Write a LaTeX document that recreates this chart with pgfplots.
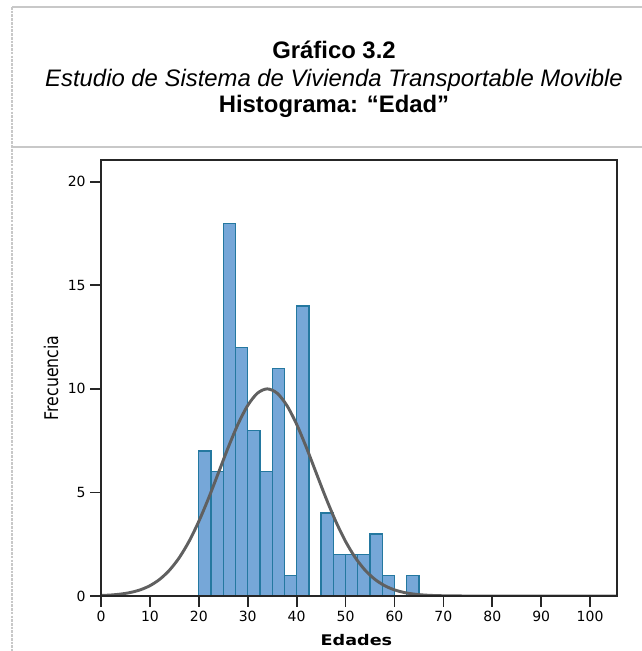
\documentclass[border=0pt]{standalone}
\usepackage{fontspec}
\setmainfont{Liberation Sans}
\newfontfamily\dejavu{DejaVu Sans}
\usepackage{pgfplots}
\pgfplotsset{compat=1.18}

\definecolor{barfill}{RGB}{118,167,216}
\definecolor{baredge}{RGB}{36,120,160}
\definecolor{curvegray}{RGB}{96,96,96}
\definecolor{framegray}{RGB}{200,200,200}

\begin{document}
\begin{tikzpicture}
% page frame and title, in pixel units of the reference
\begin{scope}[x=0.75pt, y=-0.75pt]
  \useasboundingbox (0,0) rectangle (642,651);
  \draw[framegray, line width=1.5pt] (12,7) -- (642,7);
  \draw[framegray, line width=1.5pt] (12,147) -- (642,147);
  \draw[framegray, line width=2.2pt, dash pattern=on 2pt off 0.8pt] (12,7) -- (12,651);
  \node[anchor=base, inner sep=0pt, font=\fontsize{17.9}{20}\selectfont\bfseries] at (334,58.5) {Gráfico 3.2};
  \node[anchor=base, inner sep=0pt, font=\fontsize{17.9}{20}\selectfont\itshape] at (334,86) {Estudio de Sistema de Vivienda Transportable Movible};
  \node[anchor=base, inner sep=0pt, font=\fontsize{17.9}{20}\selectfont\bfseries] at (334,112.6) {Histograma: “Edad”};
\end{scope}

\begin{axis}[
    at={(75.75pt,-447pt)}, anchor=south west,
    width=387pt, height=327pt, scale only axis,
    xmin=0, xmax=105.5, ymin=0, ymax=21.05,
    axis on top,
    axis line style={black!85, line width=1.4pt},
    xtick={0,10,...,100}, ytick={0,5,10,15,20},
    minor tick num=0,
    tick align=outside, tick pos=left,
    major tick length=8pt,
    tick style={black!85, line width=1.3pt},
    tick label style={font=\dejavu\fontsize{10.5}{12}\selectfont},
    /pgf/number format/assume math mode=true,
    xlabel={Edades}, ylabel={Frecuencia},
    every axis x label/.style={at={(axis description cs:0.495,-0.114)}, anchor=base,
        font=\dejavu\bfseries\fontsize{11}{13}\selectfont, xscale=1.2},
    every axis y label/.style={at={(axis description cs:-0.0969,0.5)}, rotate=90, yscale=1.2,
        anchor=center, font=\dejavu\fontsize{11.8}{13}\selectfont},
]
% histogram, bins of width 2.5 (left edge, count)
\addplot[ybar interval, fill=barfill, draw=baredge, line width=1pt] coordinates {
  (20,7) (22.5,6) (25,18) (27.5,12) (30,8) (32.5,6) (35,11) (37.5,1) (40,14)
  (42.5,0) (45,4) (47.5,2) (50,2) (52.5,2) (55,3) (57.5,1) (60,0) (62.5,1) (65,0)
};
% normal curve
\addplot[curvegray, line width=2.2pt, smooth] coordinates {
  (0,0.024) (2,0.048) (4,0.092) (6,0.169) (8,0.296) (10,0.498) (12,0.805)
  (14,1.247) (16,1.851) (18,2.637) (20,3.605) (22,4.725) (24,5.942)
  (26,7.166) (28,8.291) (30,9.201) (32,9.794) (34,10) (36,9.794)
  (38,9.201) (40,8.291) (42,7.166) (44,5.942) (46,4.725) (48,3.605)
  (50,2.637) (52,1.851) (54,1.247) (56,0.805) (58,0.498) (60,0.296)
  (62,0.169) (64,0.092) (66,0.048) (68,0.024) (70,0.012) (72,0.005)
  (76,0) (85,0) (95,0) (105.5,0)
};
\end{axis}
\end{tikzpicture}
\end{document}
